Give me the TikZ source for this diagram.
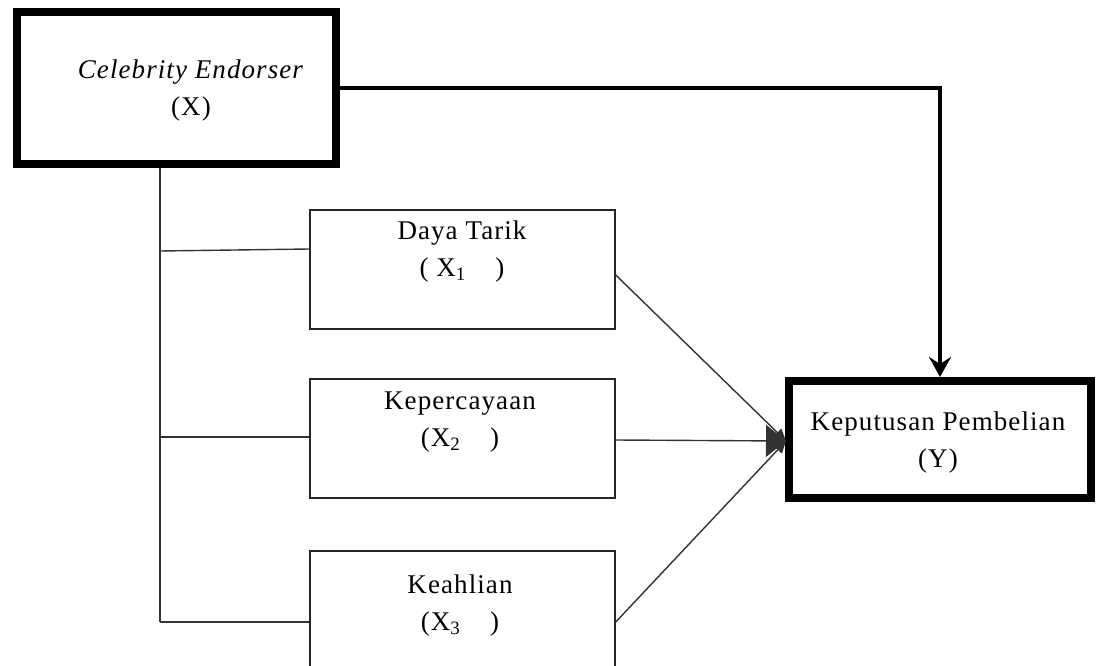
\documentclass[tikz,border=0pt]{standalone}
\usepackage{fontspec}
\setmainfont{Liberation Serif}[LetterSpace=4]
\usetikzlibrary{positioning,arrows.meta,calc}

\begin{document}
\begin{tikzpicture}[x=1pt,y=-1pt,
  thickbox/.style={draw,line width=8pt,inner sep=0pt},
  thinbox/.style={draw=black!85,line width=1.5pt,inner sep=0pt,
    minimum width=305pt,minimum height=119pt},
  lbl/.style={align=center,inner sep=0pt,font=\fontsize{27}{37}\selectfont},
  link/.style={draw=black!80,line width=1.4pt},
  toarrow/.style={link,-{Triangle[length=12pt,width=11pt]}}]
  \useasboundingbox (0,0) rectangle (1100,666);
  % variable boxes
  \node[thickbox,minimum width=319pt,minimum height=152pt] (cx) at (176.5,88) {};
  \node[lbl] (cx-t) at (191,91) {\textit{Celebrity Endorser}\\(X)};
  \node[thinbox] (dt) at (462.5,269.5) {};
  \node[lbl] (dt-t) at (462,251.5) {Daya Tarik\\( X\textsubscript{1}\hspace{1.1em})};
  \node[thinbox] (kp) at (462.5,438.5) {};
  \node[lbl] (kp-t) at (460,422) {Kepercayaan\\(X\textsubscript{2}\hspace{1.1em})};
  \node[thinbox,minimum height=142pt] (kh) at (462.5,622) {};
  \node[lbl] (kh-t) at (460,606) {Keahlian\\(X\textsubscript{3}\hspace{1.1em})};
  \node[thickbox,minimum width=302pt,minimum height=117pt] (y) at (940,439.5) {};
  \node[lbl] (y-t) at (938,443) {Keputusan Pembelian\\(Y)};
  % direct path X -> Y
  \draw[line width=4pt,-{Stealth[length=20pt,width=22pt,inset=7pt]}] (cx.east) -| (y.north);
  % dimensions of X
  \coordinate (t1) at (160,251);
  \coordinate (t2) at (160,437);
  \coordinate (t3) at (160,622);
  \draw[link] (cx.south -| t3) -- (t3);
  \draw[link] (t1) -- ([yshift=2pt]t1 -| dt.west);
  \draw[link] (t2) -- (t2 -| kp.west);
  \draw[link] (t3) -- (t3 -| kh.west);
  % dimensions -> Y
  \coordinate (hit) at ($(y.west)+(1,1.5)$);
  \draw[toarrow] ([yshift=-5.5pt]dt.east) -- (hit);
  \draw[toarrow] (kh.east) -- (hit);
  \draw[toarrow,-{Triangle[length=20pt,width=32pt]}] ([yshift=-1.5pt]kp.east) -- (hit);
\end{tikzpicture}
\end{document}
